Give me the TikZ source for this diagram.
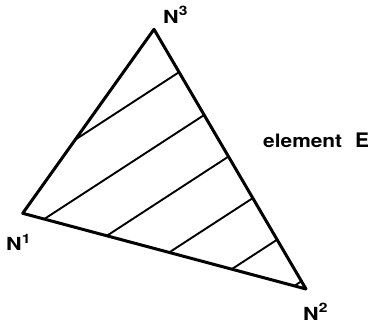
\documentclass[tikz,border=0pt]{standalone}
\usepackage{fontspec}
\setmainfont{TeX Gyre Heros}
\usetikzlibrary{calc}
\newcommand{\vertexlabel}[1]{\scalebox{1.2}[1]{\fontsize{18}{18}\selectfont\bfseries N\raisebox{0.42em}{\fontsize{13}{13}\selectfont #1}}}

\begin{document}
\begin{tikzpicture}[
  x=1pt,
  y=-1pt,
  line join=round,
  line cap=round,
  edge/.style={draw=black,line width=3pt},
  hatch/.style={draw=black,line width=1.9pt},
  tag/.style={inner sep=0pt,font=\bfseries}
]
  \useasboundingbox[fill=white] (0,0) rectangle (368,324);

  % Element corners.
  \coordinate (N1) at (22.7,213.3);
  \coordinate (N2) at (306,289);
  \coordinate (N3) at (154,29.3);

  % Parallel hatching, from the N3--N2 side across the element.
  \draw[hatch] ($(N3)!0.165!(N2)$) -- ($(N1)!0.40!(N3)$);
  \foreach \t/\u in {0.33/0.076,0.49/0.297,0.65/0.517,0.81/0.738,0.97/0.959} {
    \draw[hatch] ($(N3)!\t!(N2)$) -- ($(N1)!\u!(N2)$);
  }

  % Element outline on top.
  \draw[edge] (N1) -- (N2) -- (N3) -- cycle;

  % Node labels.
  \node[tag,anchor=base west] (lab3) at (163,23.5) {\vertexlabel{3}};
  \node[tag,anchor=base west] (lab1) at (6,251) {\vertexlabel{1}};
  \node[tag,anchor=base west] (lab2) at (303,320) {\vertexlabel{2}};
  \node[tag,anchor=base west] (elem) at (263,148) {\scalebox{1.13}[1]{\fontsize{18.5}{18.5}\selectfont\bfseries element}};
  \node[tag,anchor=base west] (elemE) at (355,148) {\scalebox{1.05}[1]{\fontsize{20}{20}\selectfont\bfseries E}};
\end{tikzpicture}
\end{document}
